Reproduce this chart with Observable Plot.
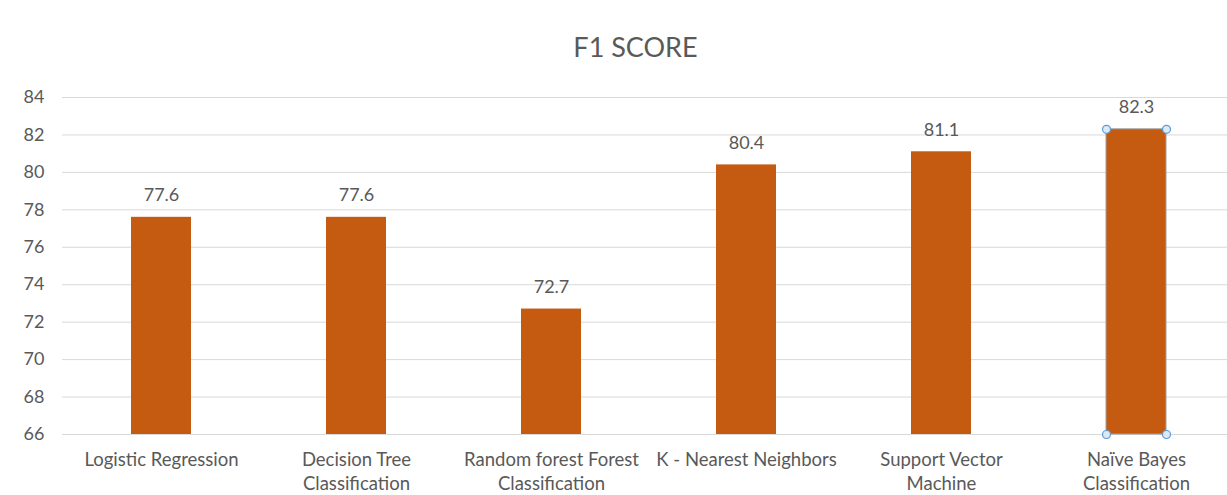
<!DOCTYPE html>
<html>
<head>
<meta charset="utf-8">
<script src="https://cdn.jsdelivr.net/npm/d3@7"></script>
<script src="https://cdn.jsdelivr.net/npm/@observablehq/plot@0.6"></script>
<style>
  html, body { margin: 0; padding: 0; background: #fff; overflow: hidden; }
  svg { display: block; }
</style>
</head>
<body>
<div id="chart"></div>
<script>
const categories = [
  "Logistic Regression",
  "Decision Tree\nClassification",
  "Random forest Forest\nClassification",
  "K - Nearest Neighbors",
  "Support Vector\nMachine",
  "Naïve Bayes\nClassification"
];
const f1Scores = [77.6, 77.6, 72.7, 80.4, 81.1, 82.3];
const yTicks = [66, 68, 70, 72, 74, 76, 78, 80, 82, 84];
const chartTitle = "F1 SCORE";
const selectedIndex = 5;

const data = categories.map((c, i) => ({category: c, value: f1Scores[i]}));
const selected = [data[selectedIndex]];

const textColor = "#595959";
const font = "Lato, 'Open Sans', sans-serif";
const handle = {r: 4, fill: "#dceaf7", stroke: "#5b9bd5", strokeWidth: 1.2};

const chart = Plot.plot({
  width: 1227,
  height: 495,
  marginLeft: 62,
  marginRight: -9,
  marginTop: 97,
  marginBottom: 61,
  style: {fontFamily: font, fontSize: "18px", color: textColor, background: "#fff"},
  x: {domain: categories, paddingInner: 0.69, paddingOuter: 0.345, label: null},
  y: {domain: [66, 84], label: null},
  marks: [
    Plot.ruleY(yTicks, {stroke: "#d9d9d9", strokeWidth: 1}),
    Plot.barY(data, {x: "category", y1: 66, y2: "value", fill: "#C55A11"}),
    Plot.barY(selected, {x: "category", y1: 66, y2: "value", fill: "none", stroke: "#a0a0a0", strokeWidth: 1}),
    Plot.text(data, {x: "category", y: "value", text: d => d.value.toFixed(1), dy: -22, fill: textColor, fontSize: 18}),
    Plot.dot(selected, {x: "category", y: "value", dx: -30, ...handle}),
    Plot.dot(selected, {x: "category", y: "value", dx: 30, ...handle}),
    Plot.dot(selected, {x: "category", y: () => 66, dx: -30, ...handle}),
    Plot.dot(selected, {x: "category", y: () => 66, dx: 30, ...handle}),
    Plot.axisY({ticks: yTicks, tickSize: 0, tickPadding: 18, fontSize: 18, fill: textColor, label: null}),
    Plot.axisX({tickSize: 0, tickPadding: 14, fontSize: 18.5, fill: textColor, lineHeight: 1.3, textAnchor: "middle", label: null}),
    Plot.text([chartTitle], {frameAnchor: "top", lineAnchor: "middle", dy: -49, dx: -14, fontSize: 27, fill: textColor})
  ]
});
document.getElementById("chart").appendChild(chart);
</script>
</body>
</html>
